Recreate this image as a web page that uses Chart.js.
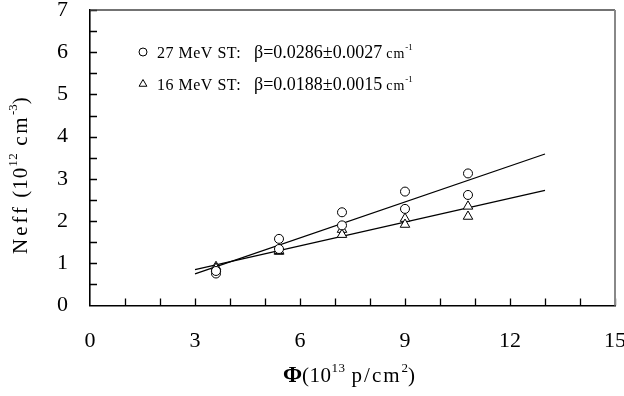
<!DOCTYPE html>
<html>
<head>
<meta charset="utf-8">
<script src="https://cdn.jsdelivr.net/npm/chart.js@4.4.1/dist/chart.umd.min.js"></script>
<style>
  html, body { margin: 0; padding: 0; background: #fff; }
  #wrap { width: 624px; height: 396px; }
</style>
</head>
<body>
<div id="wrap"><canvas id="c" width="624" height="396"></canvas></div>
<script>
// data
const fluence = [3.6, 3.6, 5.4, 5.4, 7.2, 7.2, 9.0, 9.0, 10.8, 10.8];
const neff27 = [0.76, 0.82, 1.58, 1.34, 2.21, 1.90, 2.70, 2.29, 3.13, 2.62];
const neff16 = [0.92, 0.88, 1.28, 1.30, 1.80, 1.68, 2.06, 1.92, 2.35, 2.11];
const fitX = [3, 13];
const fit27 = [0.75, 3.59];
const fit16 = [0.85, 2.73];
const xTickLabels = [0, 3, 6, 9, 12, 15];
const legendRows = [
  { style: 'circle', name: '27 MeV ST:', beta: 'β=0.0286±0.0027' },
  { style: 'triangle', name: '16 MeV ST:', beta: 'β=0.0188±0.0015' },
];

const serif = '"Liberation Serif", "Times New Roman", serif';
const pts = (xs, ys) => xs.map((x, i) => ({ x: x, y: ys[i] }));

// ticks pointing inwards + frame
const frame = {
  id: 'frame',
  afterDatasetsDraw(chart) {
    const ctx = chart.ctx, a = chart.chartArea;
    const xs = chart.scales.x, ys = chart.scales.y;
    ctx.save();
    ctx.strokeStyle = '#000';
    ctx.lineWidth = 1.3;
    ctx.beginPath();
    for (let v = 1; v <= 15; v++) {
      const px = Math.round(xs.getPixelForValue(v)) + 0.5;
      ctx.moveTo(px, a.bottom);
      ctx.lineTo(px, a.bottom - 7);
    }
    for (let v = 0.5; v <= 7; v += 0.5) {
      const py = Math.round(ys.getPixelForValue(v)) + 0.5;
      ctx.moveTo(a.left, py);
      ctx.lineTo(a.left + 7, py);
    }
    ctx.stroke();
    // top and right edges
    ctx.strokeStyle = '#444';
    ctx.lineWidth = 1.3;
    ctx.beginPath();
    ctx.moveTo(a.left, a.top);
    ctx.lineTo(a.right, a.top);
    ctx.stroke();
    ctx.strokeStyle = '#888';
    ctx.lineWidth = 2;
    ctx.beginPath();
    ctx.moveTo(a.right, a.top);
    ctx.lineTo(a.right, a.bottom);
    ctx.stroke();
    ctx.restore();
  }
};

// draws a run of text pieces, some raised as superscripts
function drawRun(ctx, x, y, parts) {
  parts.forEach(p => {
    ctx.font = (p.bold ? 'bold ' : '') + p.size + 'px ' + serif;
    ctx.letterSpacing = (p.sp || 0) + 'px';
    ctx.fillText(p.t, x, y - (p.up || 0));
    x += ctx.measureText(p.t).width + (p.gap || 0);
  });
  return x;
}

const labels = {
  id: 'labels',
  afterDraw(chart) {
    const ctx = chart.ctx;
    ctx.save();
    ctx.fillStyle = '#000';
    ctx.textBaseline = 'alphabetic';
    ctx.textAlign = 'left';

    // legend
    legendRows.forEach((r, i) => {
      const y = 52 + i * 32;
      ctx.strokeStyle = '#000';
      ctx.fillStyle = '#fff';
      ctx.lineWidth = 1;
      Chart.helpers.drawPoint(ctx, { pointStyle: r.style, radius: r.style === 'circle' ? 4 : 4.5, rotation: 0, borderWidth: 1 }, 143, y);
      ctx.fillStyle = '#000';
      drawRun(ctx, 157, y + 6, [{ t: r.name, size: 16, sp: 0.5 }]);
      let x = drawRun(ctx, 254, y + 6, [{ t: r.beta, size: 18, gap: 4 }]);
      drawRun(ctx, x, y + 6, [{ t: 'cm', size: 14, sp: 1 }, { t: '-1', size: 9, up: 8 }]);
    });

    // x axis title
    drawRun(ctx, 283, 382, [
      { t: 'Φ', size: 23, bold: true },
      { t: '(10', size: 21, sp: 0.5 },
      { t: '13', size: 13, up: 10, gap: 6, sp: 0.5 },
      { t: 'p/cm', size: 21, sp: 2 },
      { t: '2', size: 13, up: 10 },
      { t: ')', size: 21 },
    ]);

    // y axis title, rotated
    ctx.translate(27, 254);
    ctx.rotate(-Math.PI / 2);
    drawRun(ctx, 0, 0, [
      { t: 'Neff', size: 21, sp: 3 },
      { t: ' (10', size: 21, sp: 1 },
      { t: '12', size: 13, up: 10, gap: 7, sp: 0.5 },
      { t: 'cm', size: 21, sp: 2.5 },
      { t: '-3', size: 13, up: 10 },
      { t: ')', size: 21 },
    ]);
    ctx.restore();
  }
};

new Chart(document.getElementById('c'), {
  type: 'scatter',
  data: {
    datasets: [
      {
        data: pts(fluence, neff27),
        pointStyle: 'circle', pointRadius: 4.5,
        borderColor: '#000', backgroundColor: '#fff', borderWidth: 1,
        order: 1
      },
      {
        data: pts(fluence, neff16),
        pointStyle: 'triangle', pointRadius: 5.5,
        borderColor: '#000', backgroundColor: '#fff', borderWidth: 1,
        order: 2
      },
      {
        data: pts(fitX, fit27),
        showLine: true, pointRadius: 0, borderColor: '#000', borderWidth: 1.3,
        order: 3
      },
      {
        data: pts(fitX, fit16),
        showLine: true, pointRadius: 0, borderColor: '#000', borderWidth: 1.3,
        order: 4
      },
    ]
  },
  options: {
    responsive: false,
    animation: false,
    events: [],
    layout: { padding: { left: 35, right: 9, top: 0, bottom: 20 } },
    plugins: { legend: { display: false }, tooltip: { enabled: false } },
    scales: {
      x: {
        type: 'linear', min: 0, max: 15,
        grid: { display: false, drawTicks: false },
        border: { display: true, color: '#000', width: 1.6 },
        afterBuildTicks(scale) { scale.ticks = xTickLabels.map(v => ({ value: v })); },
        afterFit(scale) { scale.paddingLeft = 0; scale.paddingRight = 0; },
        ticks: {
          padding: 22, color: '#000', maxRotation: 0, autoSkip: false,
          font: { family: serif, size: 22 }
        }
      },
      y: {
        type: 'linear', min: 0, max: 7,
        grid: { display: false, drawTicks: false },
        border: { display: true, color: '#000', width: 1.6 },
        afterFit(scale) { scale.paddingTop = 10; scale.paddingBottom = 0; },
        ticks: {
          stepSize: 1, padding: 22, color: '#000',
          font: { family: serif, size: 22 }
        }
      }
    }
  },
  plugins: [frame, labels]
});
</script>
</body>
</html>
